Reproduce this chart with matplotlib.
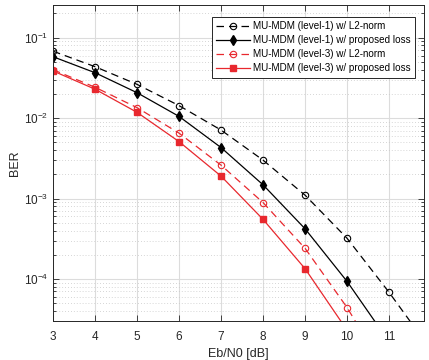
import matplotlib
matplotlib.use("Agg")
import matplotlib.pyplot as plt
from matplotlib.ticker import LogLocator, NullFormatter, FixedLocator

plt.rcParams['font.family'] = ['Liberation Sans', 'DejaVu Sans']

ebn0_l1_l2 = [3, 4, 5, 6, 7, 8, 9, 10, 11, 12]
ber_l1_l2 = [0.068, 0.0436, 0.0263, 0.0143, 0.0071, 0.003, 0.0011, 3.2e-4, 6.8e-5, 1.3e-5]

ebn0_l1_prop = [3, 4, 5, 6, 7, 8, 9, 10, 11]
ber_l1_prop = [0.058, 0.0367, 0.0207, 0.0105, 0.0043, 0.00148, 4.2e-4, 9.3e-5, 1.65e-5]

ebn0_l3_l2 = [3, 4, 5, 6, 7, 8, 9, 10, 11]
ber_l3_l2 = [0.040, 0.0242, 0.0135, 0.0065, 0.0026, 8.9e-4, 2.4e-4, 4.4e-5, 6e-6]

ebn0_l3_prop = [3, 4, 5, 6, 7, 8, 9, 10]
ber_l3_prop = [0.0386, 0.0229, 0.0118, 0.0051, 0.0019, 5.5e-4, 1.34e-4, 2.3e-5]

labels = ["MU-MDM (level-1) w/ L2-norm",
          "MU-MDM (level-1) w/ proposed loss",
          "MU-MDM (level-3) w/ L2-norm",
          "MU-MDM (level-3) w/ proposed loss"]

xticks = [3, 4, 5, 6, 7, 8, 9, 10, 11]
red = '#e8282e'

fig = plt.figure(figsize=(4.29, 3.6), dpi=100)
ax = fig.add_axes([53/429, 1-321/360, (424-53)/429, (321-5)/360])

ax.semilogy(ebn0_l1_l2, ber_l1_l2, '--', color='black', lw=0.9, marker='o',
            ms=4.6, mfc='none', mec='black', mew=0.8, dashes=(6, 4), label=labels[0])
ax.semilogy(ebn0_l1_prop, ber_l1_prop, '-', color='black', lw=0.9, marker='d',
            ms=5.2, mfc='black', mec='black', label=labels[1])
ax.semilogy(ebn0_l3_l2, ber_l3_l2, '--', color=red, lw=0.9, marker='o',
            ms=4.6, mfc='none', mec=red, mew=0.8, dashes=(6, 4), label=labels[2])
ax.semilogy(ebn0_l3_prop, ber_l3_prop, '-', color=red, lw=0.9, marker='s',
            ms=3.8, mfc=red, mec=red, label=labels[3])

ax.set_xlim(3, 11.83)
ax.set_ylim(3e-5, 0.255)
ax.xaxis.set_major_locator(FixedLocator(xticks))
ax.yaxis.set_major_locator(LogLocator(base=10, numticks=10))
ax.yaxis.set_minor_locator(LogLocator(base=10, subs=range(2, 10), numticks=20))
ax.yaxis.set_minor_formatter(NullFormatter())

ax.grid(True, which='major', color='#dcdcdc', lw=0.8, ls='-')
ax.grid(True, which='minor', axis='y', color='#c8c8c8', lw=0.6, ls=(0, (1, 2.5)))
ax.set_axisbelow(True)

ax.tick_params(which='both', direction='in', top=True, right=True, labelsize=8.5,
               colors='#262626', width=0.6)
ax.tick_params(which='major', length=4)
ax.tick_params(which='minor', length=2)
ax.tick_params(axis='x', which='major', pad=7)
for s in ax.spines.values():
    s.set_color('#262626')
    s.set_linewidth(0.7)

ax.set_xlabel('Eb/N0 [dB]', fontsize=9, color='#262626', labelpad=4)
ax.set_ylabel('BER', fontsize=9, color='#262626', labelpad=2)

leg = ax.legend(loc='upper right', bbox_to_anchor=(0.9757, 0.962), fontsize=7.1,
                frameon=True, fancybox=False, edgecolor='#262626', framealpha=1,
                borderpad=0.45, labelspacing=0.4, handlelength=3.5,
                handletextpad=0.25, borderaxespad=0.0)
leg.get_frame().set_linewidth(0.7)

fig.savefig('out.png', dpi=100)
